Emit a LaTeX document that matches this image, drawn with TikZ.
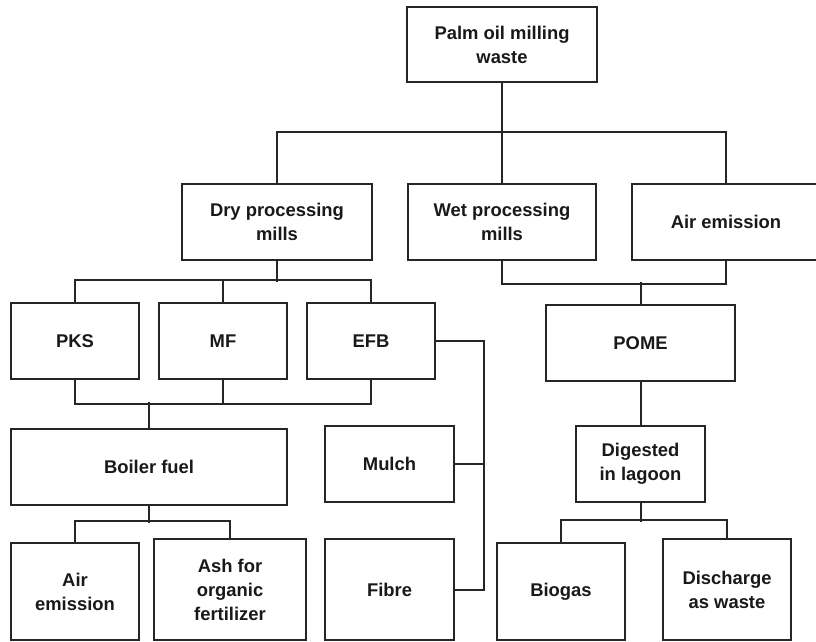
\documentclass[tikz,border=0pt]{standalone}
\usepackage{fontspec}
\setmainfont{Liberation Sans}
\begin{document}
\begin{tikzpicture}[x=1pt,y=-1pt,
  box/.style={draw=black!85, line width=2pt, inner sep=0pt, align=center,
    font=\fontsize{18.4}{24}\selectfont\bfseries, text=black!90},
  conn/.style={draw=black!85, line width=2pt}]
\clip (0,0) rectangle (816,641);
\fill[white] (0,0) rectangle (816,641);
% nodes
\node[box, minimum width=190, minimum height=75] (top) at (502,44.5) {Palm oil milling\\waste};
\node[box, minimum width=190, minimum height=76] (dry) at (277,222) {Dry processing\\mills};
\node[box, minimum width=188, minimum height=76] (wet) at (502,222) {Wet processing\\mills};
\node[box, minimum width=188, minimum height=76] (air) at (726,222) {Air emission};
\node[box, minimum width=128, minimum height=76] (pks) at (75,341) {PKS};
\node[box, minimum width=128, minimum height=76] (mf) at (223,341) {MF};
\node[box, minimum width=128, minimum height=76] (efb) at (371,341) {EFB};
\node[box, minimum width=189, minimum height=76] (pome) at (640.5,343) {POME};
\node[box, minimum width=276, minimum height=76] (boiler) at (149,467) {Boiler fuel};
\node[box, minimum width=129, minimum height=76] (mulch) at (389.5,464) {Mulch};
\node[box, minimum width=129, minimum height=76] (dig) at (640.5,464) {Digested\\in lagoon};
\node[box, minimum width=129, minimum height=101] (fibre) at (389.5,589.5) {Fibre};
\node[box, minimum width=128, minimum height=97] (aire) at (75,591.5) {Air\\emission};
\node[box, minimum width=152, minimum height=101] (ash) at (230,589.5) {Ash for\\organic\\fertilizer};
\node[box, minimum width=128, minimum height=97] (biogas) at (561,591.5) {Biogas};
\node[box, minimum width=128, minimum height=101] (disch) at (727,589.5) {Discharge\\as waste};
% connectors
\draw[conn] (top.south) -- (wet.north);
\draw[conn] (dry.north) -- ++(0,-51) -| (air.north);
\draw[conn] (dry.south) -- ++(0,21);
\draw[conn] (pks.north) -- ++(0,-22) -| (efb.north);
\draw[conn] (mf.north) -- ++(0,-22);
\draw[conn] (pks.south) -- ++(0,24) -| (efb.south);
\draw[conn] (mf.south) -- ++(0,24);
\draw[conn] (boiler.north) -- ++(0,-26);
\draw[conn] (efb.east) -- ++(48,0) |- (fibre.east);
\draw[conn] (mulch.east) -- ++(29,0);
\draw[conn] (boiler.south) -- ++(0,17);
\draw[conn] (aire.north) -- ++(0,-21) -| (ash.north);
\draw[conn] (wet.south) -- ++(0,23) -| (air.south);
\draw[conn] (pome.north) -- ++(0,-22);
\draw[conn] (pome.south) -- (dig.north);
\draw[conn] (dig.south) -- ++(0,19);
\draw[conn] (biogas.north) -- ++(0,-22) -| (disch.north);
\end{tikzpicture}
\end{document}
